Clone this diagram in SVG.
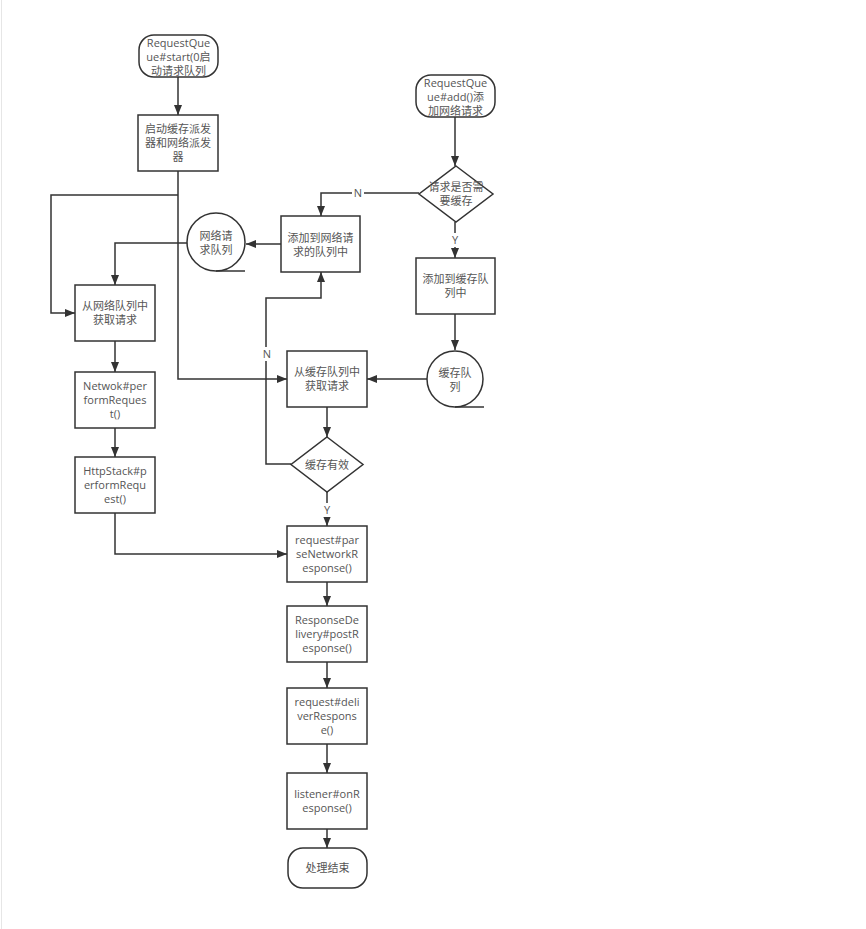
<svg xmlns="http://www.w3.org/2000/svg" width="866" height="929" viewBox="0 0 866 929">
<defs>
<marker id="arr" markerWidth="10" markerHeight="8" refX="10" refY="4" orient="auto" markerUnits="userSpaceOnUse">
<path d="M0,0 L10,4 L0,8 Z" fill="#333"/>
</marker>
<style>
.n{fill:#fff;stroke:#333;stroke-width:1.5}
.t{font-family:"Open Sans","Noto Sans CJK SC",sans-serif;font-size:11px;fill:#555;text-anchor:middle}
.c{fill:none;stroke:#333;stroke-width:1.5}
.a{marker-end:url(#arr)}
.lb{font-family:"Open Sans","Noto Sans CJK SC",sans-serif;font-size:11px;fill:#555;text-anchor:middle}
</style>
</defs>
<rect width="866" height="929" fill="#fff"/>
<line x1="1.5" y1="0" x2="1.5" y2="929" stroke="#e6e6e6" stroke-width="1"/>

<g id="connectors">
<path class="c a" d="M178,77 V115"/>
<path class="c a" d="M178,171 V379 H287"/>
<path class="c a" d="M178,195 H51 V313 H75"/>
<path class="c a" d="M455,117 V166"/>
<path class="c a" d="M419,193 H321 V216"/>
<path class="c a" d="M455,222 V258"/>
<path class="c a" d="M455,314 V350"/>
<path class="c a" d="M427,379 H367"/>
<path class="c a" d="M281,244 H246"/>
<path class="c a" d="M188,243 H115 V285"/>
<path class="c a" d="M115,341 V372"/>
<path class="c a" d="M115,428 V457"/>
<path class="c a" d="M115,513 V554 H287"/>
<path class="c a" d="M327,407 V437"/>
<path class="c a" d="M291,464 H266 V298 H321 V272"/>
<path class="c a" d="M327,492 V526"/>
<path class="c a" d="M327,582 V606"/>
<path class="c a" d="M327,662 V688"/>
<path class="c a" d="M327,744 V773"/>
<path class="c a" d="M327,829 V848"/>
<rect x="352" y="186" width="12" height="14" fill="#fff"/>
<text class="lb" x="358" y="197">N</text>
<rect x="449" y="233" width="12" height="14" fill="#fff"/>
<text class="lb" x="455" y="244">Y</text>
<rect x="261" y="347" width="12" height="14" fill="#fff"/>
<text class="lb" x="267" y="358">N</text>
<rect x="321" y="503" width="12" height="14" fill="#fff"/>
<text class="lb" x="327" y="514">Y</text>
</g>

<g id="start">
<rect class="n" x="139" y="35" width="79" height="42" rx="15"/>
<text class="t" x="178.5" y="47">RequestQue</text>
<text class="t" x="178.5" y="61">ue#start(0启</text>
<text class="t" x="178.5" y="75">动请求队列</text>
</g>

<g id="startDispatchers">
<rect class="n" x="138" y="115" width="80" height="56"/>
<text class="t" x="178" y="133">启动缓存派发</text>
<text class="t" x="178" y="147">器和网络派发</text>
<text class="t" x="178" y="161">器</text>
</g>

<g id="add">
<rect class="n" x="416" y="75" width="79" height="42" rx="15"/>
<text class="t" x="455.5" y="87">RequestQue</text>
<text class="t" x="455.5" y="101">ue#add()添</text>
<text class="t" x="455.5" y="115">加网络请求</text>
</g>

<g id="needCache">
<path class="n" d="M456,166 L493,194 L456,222 L419,194 Z"/>
<text class="t" x="456" y="191">请求是否需</text>
<text class="t" x="456" y="205">要缓存</text>
</g>

<g id="addNetQueue">
<rect class="n" x="281" y="216" width="79" height="56"/>
<text class="t" x="320.5" y="242">添加到网络请</text>
<text class="t" x="320.5" y="256">求的队列中</text>
</g>

<g id="netQueue">
<circle class="n" cx="216" cy="242" r="29"/>
<line class="c" x1="216" y1="271" x2="245" y2="271"/>
<text class="t" x="216" y="240">网络请</text>
<text class="t" x="216" y="254">求队列</text>
</g>

<g id="addCacheQueue">
<rect class="n" x="416" y="258" width="79" height="56"/>
<text class="t" x="455.5" y="283">添加到缓存队</text>
<text class="t" x="455.5" y="297">列中</text>
</g>

<g id="cacheQueue">
<circle class="n" cx="455" cy="379" r="28"/>
<line class="c" x1="455" y1="407" x2="484" y2="407"/>
<text class="t" x="455" y="377">缓存队</text>
<text class="t" x="455" y="391">列</text>
</g>

<g id="getNetRequest">
<rect class="n" x="75" y="285" width="80" height="56"/>
<text class="t" x="115" y="310">从网络队列中</text>
<text class="t" x="115" y="324">获取请求</text>
</g>

<g id="performRequest">
<rect class="n" x="75" y="372" width="80" height="56"/>
<text class="t" x="115" y="390">Netwok#per</text>
<text class="t" x="115" y="404">formReques</text>
<text class="t" x="115" y="418">t()</text>
</g>

<g id="httpStack">
<rect class="n" x="75" y="457" width="80" height="56"/>
<text class="t" x="115" y="475">HttpStack#p</text>
<text class="t" x="115" y="489">erformRequ</text>
<text class="t" x="115" y="503">est()</text>
</g>

<g id="getCacheRequest">
<rect class="n" x="287" y="351" width="80" height="56"/>
<text class="t" x="327" y="376">从缓存队列中</text>
<text class="t" x="327" y="390">获取请求</text>
</g>

<g id="cacheValid">
<path class="n" d="M327,437 L363,464.5 L327,492 L291,464.5 Z"/>
<text class="t" x="327" y="468.5">缓存有效</text>
</g>

<g id="parse">
<rect class="n" x="287" y="526" width="80" height="56"/>
<text class="t" x="327" y="544">request#par</text>
<text class="t" x="327" y="558">seNetworkR</text>
<text class="t" x="327" y="572">esponse()</text>
</g>

<g id="postResponse">
<rect class="n" x="287" y="606" width="80" height="56"/>
<text class="t" x="327" y="624">ResponseDe</text>
<text class="t" x="327" y="638">livery#postR</text>
<text class="t" x="327" y="652">esponse()</text>
</g>

<g id="deliverResponse">
<rect class="n" x="287" y="688" width="80" height="56"/>
<text class="t" x="327" y="706">request#deli</text>
<text class="t" x="327" y="720">verRespons</text>
<text class="t" x="327" y="734">e()</text>
</g>

<g id="onResponse">
<rect class="n" x="287" y="773" width="80" height="56"/>
<text class="t" x="327" y="798">listener#onR</text>
<text class="t" x="327" y="812">esponse()</text>
</g>

<g id="end">
<rect class="n" x="288" y="848" width="79" height="40" rx="15"/>
<text class="t" x="327.5" y="872">处理结束</text>
</g>
</svg>
